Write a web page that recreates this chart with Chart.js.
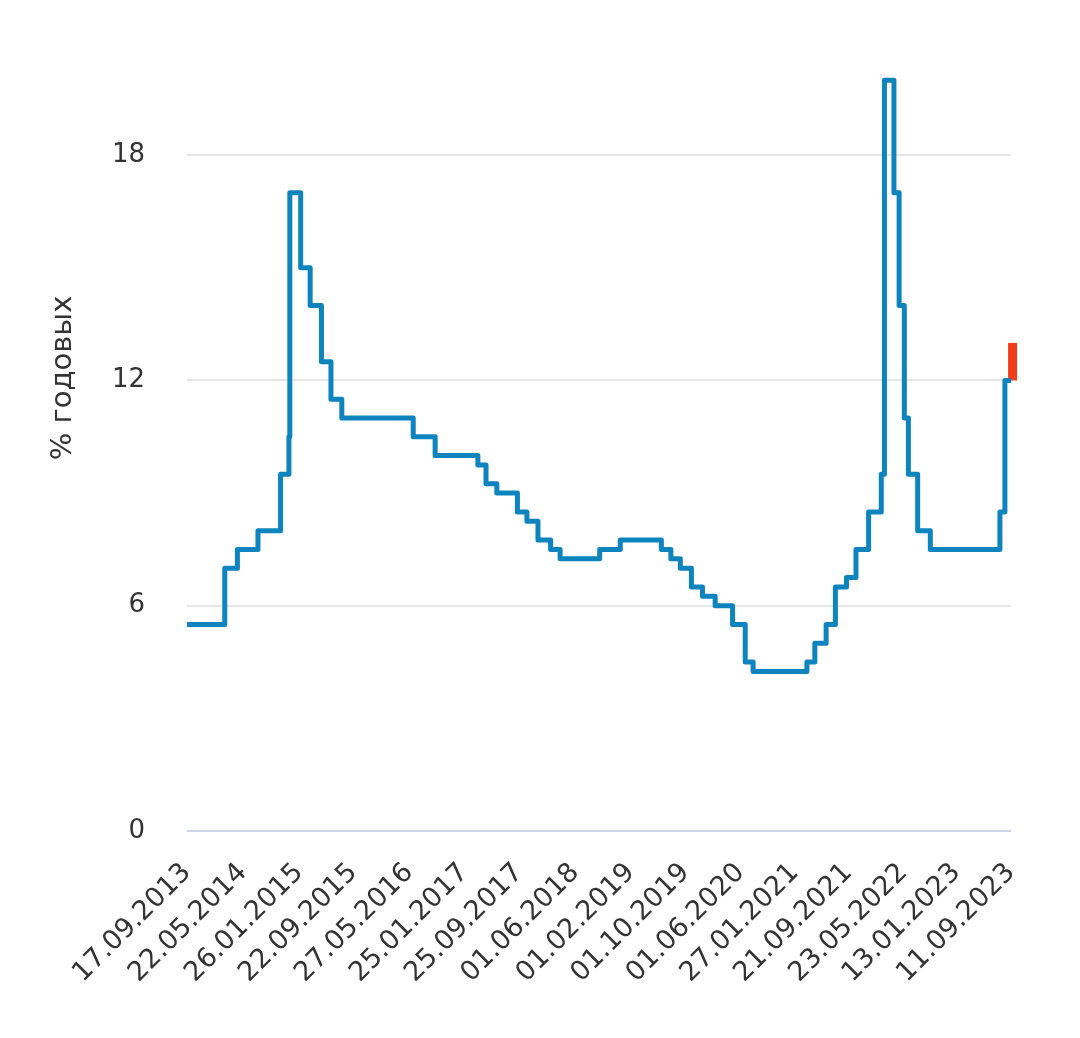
<!DOCTYPE html>
<html>
<head>
<meta charset="utf-8">
<script src="https://cdn.jsdelivr.net/npm/chart.js@4.4.1/dist/chart.umd.min.js"></script>
<style>
html,body{margin:0;padding:0;background:#fff;}
#wrap{width:1080px;height:1038px;position:relative;}
</style>
</head>
<body>
<div id="wrap"><canvas id="c" width="1080" height="1038"></canvas></div>
<script>
// Key rate change dates and values (% годовых)
const changeDates = ['17.09.2013','03.03.2014','28.04.2014','28.07.2014','05.11.2014','12.12.2014','16.12.2014',
  '02.02.2015','16.03.2015','05.05.2015','16.06.2015','03.08.2015','14.06.2016','19.09.2016',
  '27.03.2017','02.05.2017','19.06.2017','18.09.2017','30.10.2017','18.12.2017','12.02.2018','26.03.2018',
  '17.09.2018','17.12.2018','17.06.2019','29.07.2019','09.09.2019','28.10.2019','16.12.2019','10.02.2020',
  '27.04.2020','22.06.2020','27.07.2020','22.03.2021','26.04.2021','15.06.2021','26.07.2021','13.09.2021',
  '25.10.2021','20.12.2021','14.02.2022','28.02.2022','11.04.2022','04.05.2022','27.05.2022','14.06.2022',
  '25.07.2022','19.09.2022','24.07.2023','15.08.2023','11.09.2023'];
const rates = [5.5,7.0,7.5,8.0,9.5,10.5,17.0,
  15.0,14.0,12.5,11.5,11.0,10.5,10.0,
  9.75,9.25,9.0,8.5,8.25,7.75,7.5,7.25,
  7.5,7.75,7.5,7.25,7.0,6.5,6.25,6.0,
  5.5,4.5,4.25,4.5,5.0,5.5,6.5,6.75,
  7.5,8.5,9.5,20.0,17.0,14.0,11.0,9.5,
  8.0,7.5,8.5,12.0,12.0];
// latest decision (highlighted)
const newDates = ['18.09.2023','18.09.2023'];
const newRates = [12.0, 13.0];
// x-axis tick labels
const tickLabels = ['17.09.2013','22.05.2014','26.01.2015','22.09.2015','27.05.2016','25.01.2017','25.09.2017',
  '01.06.2018','01.02.2019','01.10.2019','01.06.2020','27.01.2021','21.09.2021','23.05.2022','13.01.2023','11.09.2023'];
const yTicks = [0, 6, 12, 18];
const yTitle = '% годовых';

function toDay(s){ const p = s.split('.'); return Date.UTC(+p[2], +p[1]-1, +p[0]) / 86400000; }
function fmt(v){ const d = new Date(Math.round(v)*86400000); const dd = String(d.getUTCDate()).padStart(2,'0');
  const mm = String(d.getUTCMonth()+1).padStart(2,'0'); return dd + '.' + mm + '.' + d.getUTCFullYear(); }

const FONT = "'DejaVu Sans', sans-serif";
const titlePlugin = {
  id: 'ytitle',
  afterDraw(chart){
    const ctx = chart.ctx; ctx.save();
    ctx.translate(71, 378); ctx.rotate(-Math.PI/2);
    ctx.font = "29px " + FONT; ctx.fillStyle = '#333'; ctx.textAlign = 'center'; ctx.textBaseline = 'alphabetic';
    ctx.fillText(yTitle, 0, 0); ctx.restore();
  }
};

new Chart(document.getElementById('c'), {
  type: 'line',
  data: {
    datasets: [
      { data: changeDates.map((d,i)=>({x: toDay(d), y: rates[i]})), borderColor: '#0E84BF', borderWidth: 5,
        stepped: true, pointRadius: 0, fill: false, clip: false, borderJoinStyle: 'round' },
      { data: newDates.map((d,i)=>({x: toDay(d), y: newRates[i]})), borderColor: '#F23D18', borderWidth: 9,
        pointRadius: 0, fill: false, clip: false, borderCapStyle: 'butt' }
    ]
  },
  options: {
    responsive: false, animation: false, devicePixelRatio: 1,
    layout: { padding: { top: 0, right: 69, left: 0, bottom: 0 } },
    plugins: { legend: { display: false }, tooltip: { enabled: false } },
    scales: {
      x: {
        type: 'linear', min: toDay(tickLabels[0]), max: toDay(tickLabels[tickLabels.length-1]),
        grid: { display: false, drawTicks: false }, border: { display: false },
        afterBuildTicks(s){ s.ticks = tickLabels.map(t=>({value: toDay(t)})); },
        afterFit(s){ s.height = 207; },
        ticks: { autoSkip: false, minRotation: 45, maxRotation: 45, padding: 26, color: '#333',
          font: { family: FONT, size: 27 }, callback: v => fmt(v) }
      },
      y: {
        min: 0, max: 20.6,
        afterBuildTicks(s){ s.ticks = yTicks.map(v=>({value: v})); },
        afterFit(s){ s.width = 187; },
        grid: { drawTicks: false, lineWidth: 2, color: c => c.tick && c.tick.value === 0 ? '#ccd6eb' : '#e6e6e6' },
        border: { display: false },
        ticks: { padding: 42, color: '#333', font: { family: FONT, size: 26 } }
      }
    }
  },
  plugins: [titlePlugin]
});
</script>
</body>
</html>
